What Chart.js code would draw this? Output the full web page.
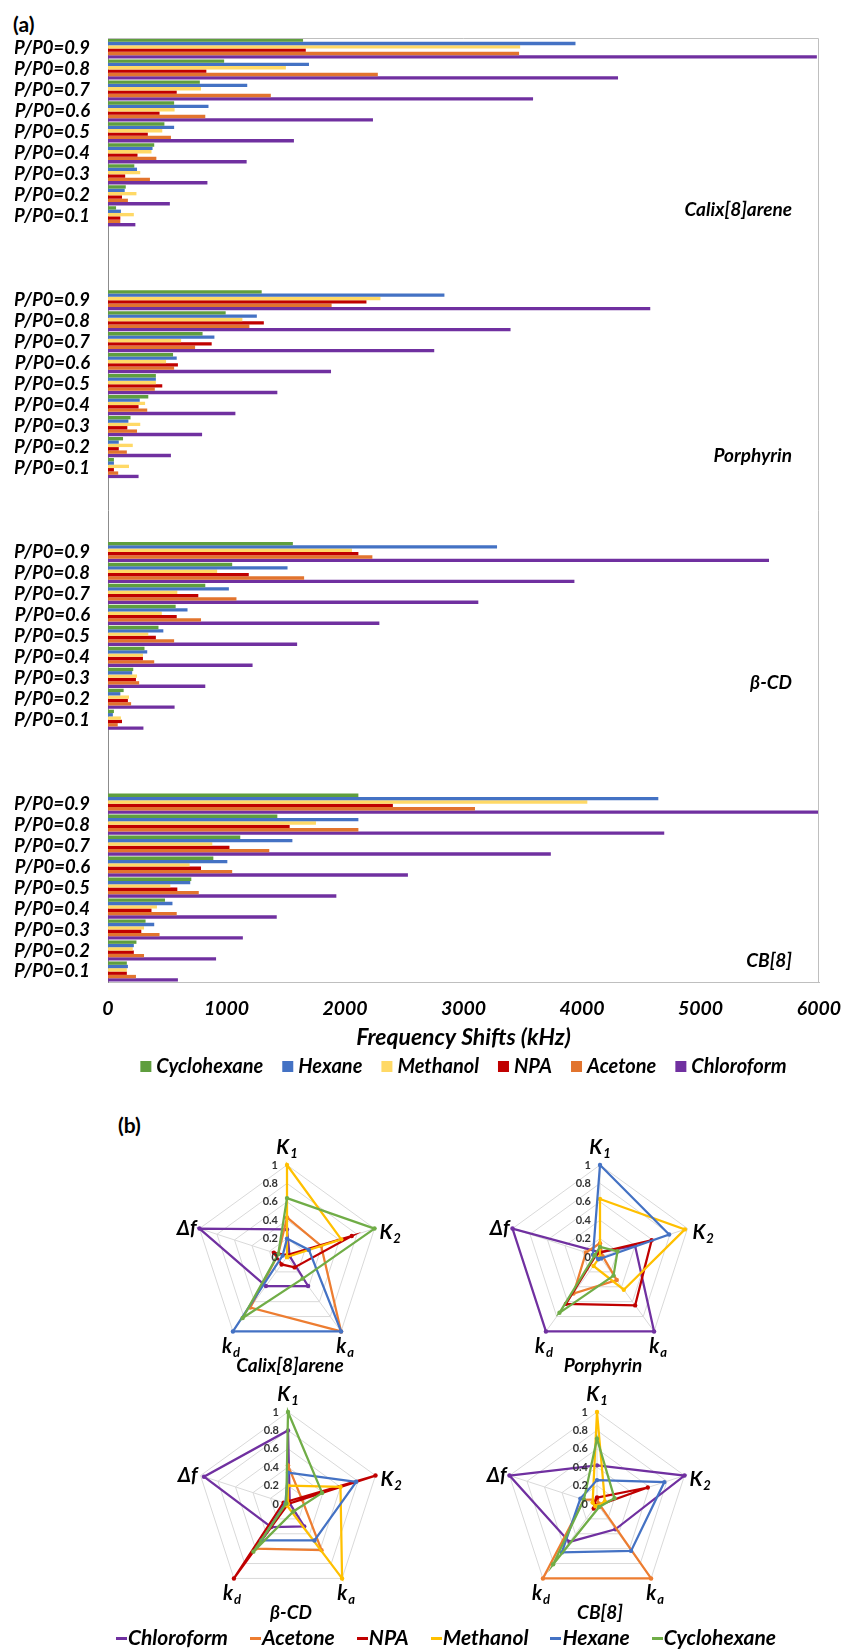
<!DOCTYPE html>
<html lang="en">
  <head>
    <meta charset="UTF-8" />
    <title>Frequency shifts and radar scores</title>
    <script src="https://cdn.jsdelivr.net/npm/chart.js"></script>
    <style>
      body { margin: 0; width: 842px; height: 1652px; position: relative; overflow: hidden; background: #fff; font-family: Lato, sans-serif; }
      .tag { position: absolute; font-weight: bold; font-size: 21px; color: #000; }
      canvas { position: absolute; }
      #radarLegend { position: absolute; left: 46px; width: 800px; top: 1624px; display: flex; justify-content: center; gap: 22px; font: italic bold 21px Lato, sans-serif; color: #000; }
      #radarLegend span.mk { display: inline-block; width: 11px; height: 3px; vertical-align: middle; margin-right: 1px; position: relative; top: -1px; }
    </style>
  </head>
  <body>
    <div class="tag" style="left: 13px; top: 11px">(a)</div>
    <div class="tag" style="left: 118px; top: 1112px">(b)</div>
    <canvas id="bars" width="842" height="1100" style="left: 0; top: 0"></canvas>
    <canvas id="r0" width="320" height="270"></canvas>
    <canvas id="r1" width="320" height="270"></canvas>
    <canvas id="r2" width="320" height="270"></canvas>
    <canvas id="r3" width="320" height="270"></canvas>
    <div id="radarLegend"></div>
    <script>
      // ---------- (a) frequency shifts ----------
      const pressures = ["0.9", "0.8", "0.7", "0.6", "0.5", "0.4", "0.3", "0.2", "0.1"];
      const hosts = ["Calix[8]arene", "Porphyrin", "β-CD", "CB[8]"];
      const solvents = ["Cyclohexane", "Hexane", "Methanol", "NPA", "Acetone", "Chloroform"];
      const barColors = ["#5f9e3e", "#4472c4", "#ffd966", "#c00000", "#e2742e", "#7030a0"];

      // kHz, host by host (order of hosts), P/P0 from 0.9 down to 0.1
      const cyclohexaneShift = [
        1646, 980, 775, 558, 476, 390, 222, 150, 68,
        1297, 993, 798, 549, 404, 340, 190, 127, 50,
        1560, 1048, 821, 571, 426, 308, 213, 132, 50,
        2113, 1429, 1116, 889, 703, 481, 317, 240, 159,
      ];
      const hexaneShift = [
        3945, 1696, 1175, 848, 558, 376, 245, 141, 109,
        2839, 1256, 898, 580, 404, 268, 172, 91, 50,
        3283, 1515, 1020, 671, 467, 331, 204, 104, 41,
        4644, 2113, 1556, 1007, 694, 544, 390, 218, 168,
      ];
      const methanolShift = [
        3478, 1501, 785, 562, 458, 367, 272, 240, 218,
        2299, 1134, 617, 490, 404, 313, 272, 209, 177,
        2059, 921, 585, 454, 340, 295, 245, 177, 109,
        4045, 1755, 880, 689, 526, 413, 304, 209, 159,
      ];
      const npaShift = [
        1669, 830, 580, 435, 336, 249, 145, 118, 104,
        2181, 1315, 875, 590, 458, 258, 163, 91, 50,
        2113, 1188, 762, 580, 404, 295, 236, 168, 118,
        2404, 1533, 1025, 785, 585, 367, 281, 218, 159,
      ];
      const acetoneShift = [
        3469, 2277, 1374, 821, 531, 408, 354, 168, 104,
        1887, 1193, 735, 558, 395, 331, 245, 159, 86,
        2231, 1655, 1084, 785, 558, 390, 263, 195, 82,
        3097, 2113, 1361, 1048, 766, 580, 435, 304, 236,
      ];
      const chloroformShift = [
        5982, 4304, 3587, 2236, 1569, 1170, 839, 522, 231,
        4576, 3397, 2753, 1882, 1429, 1075, 794, 531, 258,
        5578, 3936, 3125, 2290, 1596, 1220, 821, 562, 299,
        6000, 4694, 3737, 2531, 1927, 1424, 1138, 912, 590,
      ];
      const shiftSeries = [cyclohexaneShift, hexaneShift, methanolShift, npaShift, acetoneShift, chloroformShift];

      const GAP = 3; // empty rows between host blocks
      const hostNameRow = [7.67, 7.4, 6.25, 7.5]; // row (inside block) where host name sits

      const rowLabels = [];
      hosts.forEach((h, gi) => {
        pressures.forEach((p) => rowLabels.push("P/P0=" + p));
        if (gi < hosts.length - 1) for (let k = 0; k < GAP; k++) rowLabels.push("");
      });
      function spread(values) {
        const out = [];
        hosts.forEach((h, gi) => {
          out.push(...values.slice(gi * 9, gi * 9 + 9));
          if (gi < hosts.length - 1) for (let k = 0; k < GAP; k++) out.push(null);
        });
        return out;
      }

      const biFont = (size) => ({ family: "Lato", size: size, style: "italic", weight: "bold" });

      const barExtras = {
        id: "barExtras",
        afterDatasetsDraw(chart) {
          const { ctx, chartArea: a } = chart;
          const y = chart.scales.y;
          ctx.save();
          // frame on top / right
          ctx.strokeStyle = "#bfbfbf";
          ctx.lineWidth = 1;
          ctx.beginPath();
          ctx.moveTo(a.left, a.top + 0.5);
          ctx.lineTo(a.right - 0.5, a.top + 0.5);
          ctx.lineTo(a.right - 0.5, a.bottom);
          ctx.stroke();
          // host names
          ctx.font = "italic bold 19px Lato";
          ctx.fillStyle = "#000";
          ctx.textAlign = "right";
          ctx.textBaseline = "middle";
          hosts.forEach((h, gi) => {
            ctx.fillText(h, a.right - 27, y.getPixelForValue(gi * (9 + GAP) + hostNameRow[gi]));
          });
          ctx.restore();
        },
        afterDraw(chart) {
          // legend row under the axis title, centred on the plot
          const { ctx, chartArea: a } = chart;
          ctx.save();
          ctx.font = "italic bold 20px Lato";
          const items = chart.data.datasets.map((d) => ({ text: d.label, color: d.backgroundColor, w: ctx.measureText(d.label).width }));
          const total = items.reduce((s, it) => s + 16 + it.w, 0) + 19 * (items.length - 1);
          let x = (a.left + a.right) / 2 - total / 2;
          const yy = a.bottom + 84;
          ctx.textAlign = "left";
          ctx.textBaseline = "middle";
          items.forEach((it) => {
            ctx.fillStyle = it.color;
            ctx.fillRect(x, yy - 5, 11, 11);
            ctx.fillStyle = "#000";
            ctx.fillText(it.text, x + 16, yy + 1);
            x += 16 + it.w + 19;
          });
          ctx.restore();
        },
      };

      new Chart(document.getElementById("bars"), {
        type: "bar",
        data: {
          labels: rowLabels,
          datasets: solvents.map((s, i) => ({
            label: s,
            data: spread(shiftSeries[i]),
            backgroundColor: barColors[i],
            borderWidth: 0,
          })),
        },
        options: {
          indexAxis: "y",
          responsive: false,
          animation: false,
          layout: { padding: { top: 38, left: 15, right: 23, bottom: 0 } },
          datasets: { bar: { categoryPercentage: 0.96, barPercentage: 1 } },
          scales: {
            x: {
              min: 0,
              max: 6000,
              ticks: { stepSize: 1000, font: biFont(19.5), color: "#000", padding: 15, callback: (v) => String(v) },
              grid: { display: false, drawTicks: false },
              border: { color: "#bfbfbf" },
              title: {
                display: true,
                text: "Frequency Shifts (kHz)",
                color: "#000",
                font: biFont(23),
                padding: { top: 0, bottom: 49 },
              },
              afterFit: (s) => {
                s.height = 118;
                s.paddingLeft = 0;
                s.paddingRight = 0;
              },
            },
            y: {
              ticks: { autoSkip: false, font: biFont(18.5), color: "#000", padding: 18 },
              grid: { display: false, drawTicks: false },
              border: { color: "#8c8c8c" },
              afterFit: (s) => { s.width = 93; },
            },
          },
          plugins: {
            legend: { display: false },
            tooltip: { enabled: false },
          },
        },
        plugins: [barExtras],
      });

      // ---------- (b) normalised radar scores ----------
      const radarAxes = [["K", "1"], ["K", "2"], ["k", "a"], ["k", "d"], ["Δf", ""]];
      const radarSolvents = ["Chloroform", "Acetone", "NPA", "Methanol", "Hexane", "Cyclohexane"];
      const radarColors = ["#7030a0", "#ed7d31", "#c00000", "#ffc000", "#4472c4", "#70ad47"];
      const radarHosts = ["Calix[8]arene", "Porphyrin", "β-CD", "CB[8]"];

      // rows follow radarSolvents, columns follow radarAxes (K1, K2, ka, kd, Δf)
      const calixScores = [
        [0.3, 0.03, 0.39, 0.39, 1.0],
        [0.43, 0.39, 1.0, 0.68, 0.1],
        [0.02, 0.74, 0.14, 0.1, 0.15],
        [1.0, 0.62, 0.0, 0.0, 0.0],
        [0.2, 0.25, 1.0, 1.0, 0.05],
        [0.64, 1.0, 0.29, 0.82, 0.1],
      ];
      const porphyrinScores = [
        [0.05, 0.4, 1.0, 1.0, 1.0],
        [0.15, 0.03, 0.31, 0.49, 0.16],
        [0.05, 0.59, 0.65, 0.63, 0.05],
        [0.63, 0.97, 0.44, 0.12, 0.0],
        [1.0, 0.79, 0.02, 0.03, 0.08],
        [0.11, 0.2, 0.25, 0.75, 0.06],
      ];
      const cdScores = [
        [0.8, 0.02, 0.3, 0.31, 0.96],
        [0.42, 0.16, 0.62, 0.6, 0.02],
        [0.03, 1.0, 0.0, 1.0, 0.05],
        [0.2, 0.6, 1.0, 0.02, 0.0],
        [0.34, 0.78, 0.49, 0.49, 0.03],
        [1.0, 0.39, 0.1, 0.64, 0.02],
      ];
      const cbScores = [
        [0.42, 1.0, 0.34, 0.51, 1.0],
        [0.05, 0.02, 1.0, 1.0, 0.15],
        [0.07, 0.58, 0.02, 0.06, 0.03],
        [1.0, 0.09, 0.02, 0.03, 0.05],
        [0.26, 0.77, 0.63, 0.65, 0.19],
        [0.71, 0.2, 0.04, 0.81, 0.15],
      ];
      const radarScores = [calixScores, porphyrinScores, cdScores, cbScores];
      const radarCenters = [[287, 1257], [600, 1257], [288, 1504], [597, 1504]];

      // where each axis name sits relative to the outer vertex
      const labelPlace = [
        { dx: 0, dy: -17, align: "center" },
        { dx: 5, dy: 4, align: "left" },
        { dx: 4, dy: 15, align: "center" },
        { dx: -2, dy: 15, align: "center" },
        { dx: -3, dy: 0, align: "right" },
      ];

      function axisName(ctx, main, sub, x, y, align) {
        ctx.font = "italic bold 20px Lato";
        const w1 = ctx.measureText(main).width;
        ctx.font = "italic bold 13px Lato";
        const w2 = sub ? ctx.measureText(sub).width + 1 : 0;
        const w = w1 + w2;
        const x0 = align === "center" ? x - w / 2 : align === "right" ? x - w : x;
        ctx.textAlign = "left";
        ctx.textBaseline = "middle";
        ctx.font = "italic bold 20px Lato";
        ctx.fillText(main, x0, y);
        if (sub) {
          ctx.font = "italic bold 13px Lato";
          ctx.fillText(sub, x0 + w1 + 1, y + 6);
        }
      }

      const radarText = {
        id: "radarText",
        afterDraw(chart, args, opts) {
          const r = chart.scales.r;
          const ctx = chart.ctx;
          ctx.save();
          ctx.font = "bold 11px Lato";
          ctx.textAlign = "right";
          ctx.textBaseline = "middle";
          ctx.fillStyle = "#333";
          r.ticks.forEach((t) => {
            const d = r.getDistanceFromCenterForValue(t.value);
            ctx.fillText(String(+t.value.toFixed(1)), r.xCenter - 9, r.yCenter - d);
          });
          ctx.fillStyle = "#000";
          radarAxes.forEach((a, i) => {
            const p = r.getPointPosition(i, r.drawingArea);
            const pl = labelPlace[i];
            axisName(ctx, a[0], a[1], p.x + pl.dx, p.y + pl.dy, pl.align);
          });
          ctx.font = "italic bold 19px Lato";
          ctx.textAlign = "center";
          ctx.textBaseline = "middle";
          ctx.fillText(opts.title, r.xCenter + 3, r.yCenter + 109);
          ctx.restore();
        },
      };

      radarHosts.forEach((host, h) => {
        const cv = document.getElementById("r" + h);
        cv.style.left = radarCenters[h][0] - 160 + "px";
        cv.style.top = radarCenters[h][1] - 135 + "px";
        new Chart(cv, {
          type: "radar",
          data: {
            labels: radarAxes.map((a) => a.join("")),
            datasets: radarSolvents.map((s, i) => ({
              label: s,
              data: radarScores[h][i],
              borderColor: radarColors[i],
              backgroundColor: radarColors[i],
              pointBackgroundColor: radarColors[i],
              fill: false,
              order: radarSolvents.length - 1 - i,
            })),
          },
          options: {
            responsive: false,
            animation: false,
            layout: { padding: { left: 68, right: 68, top: 43, bottom: 43 } },
            elements: {
              line: { borderWidth: 2.25, tension: 0 },
              point: { radius: 2.2, borderWidth: 0 },
            },
            scales: {
              r: {
                min: 0,
                max: 1,
                ticks: { stepSize: 0.2, display: false },
                pointLabels: { display: false },
                grid: { color: "#d9d9d9" },
                angleLines: { color: "#d9d9d9" },
              },
            },
            plugins: {
              legend: { display: false },
              tooltip: { enabled: false },
              radarText: { title: host },
            },
          },
          plugins: [radarText],
        });
      });

      const legendBox = document.getElementById("radarLegend");
      radarSolvents.forEach((s, i) => {
        legendBox.innerHTML += `<div><span class="mk" style="background:${radarColors[i]}"></span>${s}</div>`;
      });
    </script>
  </body>
</html>
